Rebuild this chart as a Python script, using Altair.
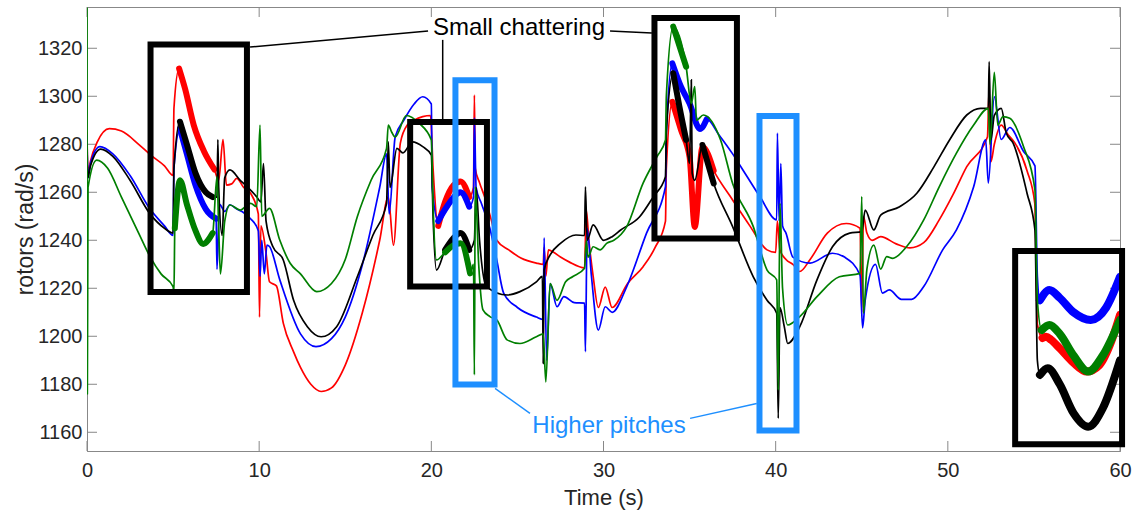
import altair as alt
import pandas as pd

# ---------------- data ----------------
red_t = [0, 0.05, 0.2, 0.6, 1.3, 2.0, 3.0, 3.7, 4.5, 5.0, 5.05, 5.35, 5.7, 6.2, 6.8, 7.4, 7.65, 7.9, 8.1, 8.4, 8.7, 9.1, 9.5, 9.95,
         10.02, 10.1, 10.4, 10.6, 11.0, 11.4, 12.0, 12.4, 13.0, 13.6, 14.2, 15.0, 16.0, 17.0, 17.5, 17.8, 18.2, 18.6, 19.0, 19.5,
         19.95, 20.1, 20.4, 20.8, 21.3, 21.7, 22.2, 22.45, 22.5, 22.55, 22.8, 23.1, 23.5, 23.8, 24.5, 25.2, 26.1, 26.5, 26.55,
         26.65, 26.8, 27.1, 27.5, 28.0, 28.9, 29.0, 29.15, 29.4, 29.7, 30.1, 30.5, 31.4, 32.3, 33.0, 33.6, 33.65, 34.0, 34.5,
         35.0, 35.3, 35.75, 36.4, 37.5, 38.5, 39.5, 40.0, 40.1, 40.25, 40.6, 41.0, 41.4, 42.0, 43.0, 44.1, 44.9, 45.0, 45.1,
         45.3, 45.6, 46.1, 47.0, 47.8, 48.6, 49.5, 50.3, 51.1, 52.3, 52.4, 52.5, 52.7, 53.1, 53.5, 53.9, 54.6, 55.05, 55.2,
         55.5, 55.7, 56.0, 56.5, 57.3, 58.06, 58.8, 59.5, 60]
red_v = [1285, 1268, 1273, 1281, 1286.5, 1285.5, 1280, 1275.5, 1271, 1267, 1295, 1311.5, 1303, 1288, 1277, 1269.5, 1265, 1282,
         1263, 1263.5, 1265.8, 1262, 1259.6, 1251, 1208, 1246, 1234.6, 1222.7, 1221, 1205.5, 1193.5, 1187, 1180, 1177, 1178.5,
         1188, 1210, 1240, 1258, 1238, 1280.5, 1288, 1290, 1291.5, 1292, 1270, 1246, 1256, 1263, 1264.5, 1258, 1262, 1300.5,
         1270, 1264, 1258, 1248, 1240, 1236, 1232.6, 1230.5, 1230, 1237, 1225, 1236, 1235, 1233, 1231, 1228.5, 1252.6, 1240,
         1225, 1212, 1220.5, 1212, 1222, 1229, 1237, 1248, 1270, 1297.7, 1286, 1274.7, 1245.5, 1278.9, 1269, 1256.8, 1246,
         1236, 1235, 1248, 1236, 1232, 1230, 1227, 1232, 1243, 1247, 1245, 1210, 1250, 1243, 1240, 1241.5, 1238.5, 1236.8,
         1239, 1248.5, 1259, 1270.7, 1283, 1303, 1272.7, 1280, 1288, 1284, 1280.5, 1269, 1255.5, 1205, 1199.3, 1199.8,
         1198.5, 1195, 1189, 1185.3, 1188, 1198, 1208.9]

blue_t = [0, 0.05, 0.2, 0.75, 1.5, 2.5, 3.66, 4.5, 5.0, 5.05, 5.4, 5.8, 6.3, 6.9, 7.5, 7.55, 7.7, 8.0, 8.3, 8.7, 9.0, 9.5, 9.95,
          10.05, 10.15, 10.3, 10.45, 10.6, 11.2, 12.4, 13.3, 14.2, 15.0, 16.0, 17.0, 17.4, 17.55, 17.9, 18.4, 19.0, 19.5, 20.0,
          20.05, 20.4, 20.9, 21.7, 22.2, 22.45, 22.5, 22.6, 22.9, 23.4, 23.8, 24.2, 25.0, 26.1, 26.5, 26.55, 26.7, 26.9, 27.3,
          27.7, 28.3, 28.9, 28.95, 29.05, 29.3, 29.7, 30.1, 30.5, 31.35, 32.5, 33.6, 33.65, 34.0, 34.5, 35.0, 35.6, 36.0, 36.7,
          37.5, 38.3, 39.1, 40.06, 40.1, 40.2, 40.3, 40.4, 40.6, 41.0, 42.0, 43.3, 44.0, 44.9, 45.05, 45.2, 45.8, 46.2, 46.6,
          47.3, 47.9, 48.6, 49.7, 50.5, 51.5, 52.2, 52.35, 52.7, 53.1, 53.6, 54.4, 55.06, 55.2, 55.35, 55.9, 56.5, 57.3, 58.3,
          59.2, 60]
blue_v = [1284, 1266, 1272, 1279, 1276, 1267, 1253, 1246, 1242, 1270, 1286.4, 1276, 1263, 1253, 1249, 1228, 1255, 1252, 1254.8,
          1253, 1252, 1249, 1244, 1225, 1240, 1226, 1238, 1237.4, 1223.5, 1201, 1195.7, 1199, 1208, 1230, 1262, 1276, 1251,
          1283, 1290, 1296.8, 1299.8, 1296.8, 1262, 1248, 1254, 1260, 1254, 1258, 1291, 1262, 1255.5, 1245, 1231.8, 1218, 1212,
          1208, 1207, 1241, 1190, 1222, 1212.3, 1216.5, 1214, 1213.8, 1193.6, 1245, 1225, 1202.6, 1212.3, 1210, 1220.7, 1243,
          1262.3, 1285, 1313.7, 1304, 1297, 1286.4, 1290.5, 1284, 1276, 1267, 1258, 1248.5, 1284.7, 1248, 1272, 1246, 1243,
          1233, 1230.5, 1234.6, 1233, 1225.5, 1203.5, 1215, 1230, 1218, 1219.3, 1215.4, 1215.4, 1220.7, 1236, 1244.3, 1262.3,
          1281.8, 1263.8, 1299.8, 1282, 1287, 1277, 1271, 1225, 1215, 1219.3, 1216, 1210, 1206.8, 1212, 1224.8]

black_t = [0, 0.05, 0.2, 0.8, 1.5, 2.5, 3.66, 4.5, 5.0, 5.05, 5.4, 5.8, 6.3, 6.9, 7.3, 7.55, 7.6, 7.65, 7.85, 8.0, 8.3, 8.9, 9.3,
           9.85, 10.1, 10.25, 10.4, 10.8, 11.4, 12.0, 12.8, 13.6, 14.5, 15.7, 16.6, 17.4, 17.5, 17.6, 18.0, 18.35, 18.9, 19.5,
           20.0, 20.1, 20.3, 20.8, 21.3, 21.7, 22.2, 22.5, 22.6, 22.8, 23.2, 24.4, 25.15, 26.1, 26.45, 26.5, 26.55, 26.9, 27.5,
           28.4, 28.9, 28.95, 29.05, 29.4, 30.0, 30.5, 31.0, 32.1, 32.9, 33.6, 33.65, 34.05, 34.4, 34.8, 35.0, 35.1, 35.15,
           35.3, 35.75, 36.4, 37.5, 38.7, 39.5, 40.06, 40.15, 40.25, 40.5, 40.7, 41.4, 42.4, 43.3, 44.3, 45.0, 45.2, 45.7, 46.1,
           47.2, 48.2, 49.2, 50.1, 51.1, 51.9, 52.35, 52.4, 52.5, 52.7, 53.1, 53.4, 53.8, 54.6, 55.06, 55.2, 55.35, 55.8, 56.5,
           57.3, 58.15, 59.0, 60]
black_v = [1280, 1266, 1271, 1278, 1275, 1265, 1251, 1245, 1243, 1270, 1289.4, 1280, 1268, 1260, 1258, 1258, 1282, 1262, 1242,
           1266, 1269.3, 1265, 1262.3, 1258.2, 1256, 1272, 1248, 1237.3, 1231.8, 1215, 1204, 1199.8, 1204, 1224.8, 1242, 1255.4,
           1281, 1262, 1278.3, 1276.4, 1281, 1279, 1275.5, 1250, 1227.6, 1236, 1241, 1243, 1236, 1240, 1262, 1240, 1220.7,
           1217.2, 1218.6, 1222.7, 1225, 1188.7, 1227.6, 1233.9, 1238.7, 1242.2, 1242, 1262.3, 1240, 1246.4, 1240, 1241.5,
           1244.3, 1249.8, 1258.2, 1266.5, 1285, 1309.6, 1296, 1281.8, 1272, 1306.8, 1268, 1265, 1279.7, 1263.7, 1245.7,
           1224.8, 1215, 1209.6, 1165.8, 1212, 1204, 1197, 1204, 1223.5, 1237.3, 1243, 1243.6, 1252.6, 1244.3, 1250.5, 1254,
           1259.6, 1270.7, 1281.8, 1292.2, 1295, 1295, 1314.4, 1281.8, 1292, 1295, 1284.6, 1280.4, 1259.6, 1244.3, 1190,
           1183.9, 1186.7, 1180, 1168, 1162.3, 1170, 1190]

green_t = [0, 0.02, 0.06, 0.56, 1.2, 2.0, 3.0, 3.66, 4.3, 5.0, 5.05, 5.1, 5.4, 5.8, 6.3, 6.75, 7.3, 7.55, 7.65, 7.75, 8.0, 8.3,
           8.9, 9.5, 9.86, 10.05, 10.15, 10.6, 11.2, 11.8, 12.4, 13.34, 14.2, 15.0, 15.7, 16.5, 17.4, 17.5, 17.7, 17.9, 18.55,
           19.3, 20.0, 20.1, 20.3, 20.8, 21.3, 21.7, 22.25, 22.45, 22.5, 22.55, 22.75, 23.0, 23.4, 23.8, 24.4, 25.15, 26.1,
           26.5, 26.65, 26.9, 27.3, 27.8, 28.2, 28.9, 29.0, 29.1, 29.4, 29.8, 30.2, 30.6, 31.35, 32.3, 33.1, 33.6, 33.65, 34.05,
           34.8, 35.1, 35.3, 35.4, 35.8, 36.8, 37.5, 38.7, 39.5, 40.06, 40.15, 40.25, 40.4, 40.7, 41.4, 42.4, 43.7, 44.9, 45.0,
           45.1, 45.3, 45.7, 46.1, 46.45, 46.8, 47.6, 48.6, 49.5, 50.5, 51.5, 52.35, 52.45, 52.7, 52.9, 53.2, 53.6, 54.4, 55.06,
           55.2, 55.45, 55.9, 56.5, 57.3, 58.15, 59.0, 60]
green_v = [1337, 1176, 1262, 1273.4, 1270, 1258, 1243, 1233.2, 1226, 1220.7, 1218, 1245, 1265, 1255, 1244, 1238.5, 1243,
           1266.5, 1245, 1226, 1248, 1254.7, 1252.6, 1255.4, 1254, 1288, 1250, 1253.3, 1240, 1230.4, 1226, 1218.6, 1222, 1232,
           1249.8, 1265, 1278.3, 1288, 1285, 1283, 1292, 1288.7, 1281.8, 1255, 1231.8, 1235, 1238, 1238.8, 1226.2, 1230,
           1183.9, 1262.3, 1230, 1211, 1208.2, 1206.8, 1198.5, 1197, 1199.8, 1201, 1181, 1222, 1215, 1222.7, 1224.8, 1228.3,
           1240, 1233, 1237.3, 1236, 1238.8, 1240, 1245.7, 1263.8, 1274.8, 1281.8, 1300, 1329, 1312.3, 1297, 1304, 1290,
           1292.2, 1281.8, 1263.7, 1245.7, 1227.6, 1223.5, 1177.6, 1255.4, 1220, 1204.7, 1208.2, 1216.5, 1224.8, 1226.2,
           1258.2, 1209.6, 1228, 1238, 1228, 1233.2, 1232.5, 1237.3, 1248.5, 1262.3, 1276.3, 1288, 1295, 1280, 1310, 1288,
           1291.5, 1290.8, 1279, 1261, 1215, 1202.6, 1204.7, 1201, 1192, 1185.3, 1192, 1206.8]

# thick (chattering band) intervals per series: (start, end, width)
red_thick = [(5.1, 7.45, 6), (20.35, 22.3, 6), (33.9, 37.2, 6), (55.3, 60, 8)]
blue_thick = [(5.1, 7.5, 6), (20.35, 22.3, 6), (33.9, 36.5, 6), (55.3, 60, 8)]
black_thick = [(5.1, 7.4, 6), (20.35, 22.3, 6), (33.9, 34.9, 6), (35.5, 36.5, 6), (55.3, 60, 8)]
green_thick = [(5.1, 7.3, 6), (20.35, 22.3, 6), (33.9, 35.0, 6), (55.3, 60, 8)]

series_names = ["red", "blue", "black", "green"]
series_colors = ["#ff0000", "#0000ff", "#000000", "#007f00"]

# annotation boxes (t1, t2, v1, v2)
black_boxes = [(3.69, 9.29, 1218.5, 1321.6), (18.77, 23.23, 1220.75, 1289.3),
               (32.96, 37.75, 1240.7, 1332.6), (53.91, 60.12, 1155.0, 1235.5)]
blue_boxes = [(21.40, 23.67, 1179.9, 1306.7), (39.06, 41.21, 1160.75, 1291.8)]

black_links = [(9.47, 19.81, 1320.5, 1327.2), (20.66, 20.66, 1323.5, 1290.1), (30.38, 32.81, 1327.2, 1326.4)]
blue_links = [(23.70, 25.73, 1178.3, 1167.9), (35.03, 38.9, 1165.8, 1172.0)]

labels_text = ["Small chattering", "Higher pitches"]
labels_t = [25.09, 30.32]
labels_v = [1325.5, 1159.6]
labels_color = ["#000000", "#1e8fff"]

x_ticks = [0, 10, 20, 30, 40, 50, 60]
y_ticks = [1160, 1180, 1200, 1220, 1240, 1260, 1280, 1300, 1320]

# ---------------- chart ----------------
W, H = 1033, 444
FONT = "Liberation Sans"
xs = alt.Scale(domain=[0, 60], nice=False, zero=False)
ys = alt.Scale(domain=[1152.2, 1337.2], nice=False, zero=False)

x_axis = alt.Axis(values=x_ticks, format="d", ticks=False, grid=False, domainColor="#888888",
                  labelFont=FONT, labelFontSize=20, labelColor="#262626", labelPadding=9,
                  labelFlush=False, labelOverlap=False, title="Time (s)", titleFont=FONT,
                  titleFontSize=22, titleFontWeight="normal", titleColor="#262626",
                  titleY=53, titleBaseline="alphabetic")
y_axis = alt.Axis(values=y_ticks, format="d", ticks=False, grid=False, domainColor="#888888",
                  labelFont=FONT, labelFontSize=20, labelColor="#262626", labelPadding=5,
                  labelFlush=False, labelOverlap=False, title="rotors (rad/s)", titleFont=FONT,
                  titleFontSize=23, titleFontWeight="normal", titleColor="#262626",
                  titleX=-62, titleY=222, titleAlign="center", titleBaseline="middle", titleAngle=270)


def X(field):
    return alt.X(field, scale=xs, axis=x_axis)


def Y(field):
    return alt.Y(field, scale=ys, axis=y_axis)


all_t = [red_t, blue_t, black_t, green_t]
all_v = [red_v, blue_v, black_v, green_v]
all_thick = [red_thick, blue_thick, black_thick, green_thick]

layers = []
# inward tick marks on all four sides (MATLAB-style box)
xt = pd.DataFrame({"t": x_ticks})
yt = pd.DataFrame({"v": y_ticks})
layers.append(alt.Chart(xt).mark_rule(color="#888888", strokeWidth=1).encode(
    x=X("t:Q"), y=alt.value(H), y2=alt.value(H - 10)))
layers.append(alt.Chart(xt).mark_rule(color="#888888", strokeWidth=1).encode(
    x=X("t:Q"), y=alt.value(0), y2=alt.value(10)))
layers.append(alt.Chart(yt).mark_rule(color="#888888", strokeWidth=1).encode(
    y=Y("v:Q"), x=alt.value(0), x2=alt.value(10)))
layers.append(alt.Chart(yt).mark_rule(color="#888888", strokeWidth=1).encode(
    y=Y("v:Q"), x=alt.value(W - 10), x2=alt.value(W)))

for name, col, ts, vs, thick in zip(series_names, series_colors, all_t, all_v, all_thick):
    df = pd.DataFrame({"t": ts, "v": vs})
    df["i"] = range(len(df))
    layers.append(alt.Chart(df).mark_line(color=col, strokeWidth=1.7, interpolate="monotone", clip=True).encode(
        x=X("t:Q"), y=Y("v:Q"), order="i:Q"))
    parts = []
    for k, (a, b, w) in enumerate(thick):
        sub = df[(df["t"] >= a) & (df["t"] <= b)].copy()
        sub["seg"] = k
        sub["w"] = w
        parts.append(sub)
    tdf = pd.concat(parts, ignore_index=True)
    layers.append(alt.Chart(tdf).mark_line(color=col, interpolate="monotone", clip=True,
                                           strokeCap="round", strokeJoin="round").encode(
        x=X("t:Q"), y=Y("v:Q"),
        detail="seg:N", order="i:Q", strokeWidth=alt.StrokeWidth("w:Q", scale=None)))

bb = pd.DataFrame(black_boxes, columns=["t1", "t2", "v1", "v2"])
bl = pd.DataFrame(blue_boxes, columns=["t1", "t2", "v1", "v2"])
layers.append(alt.Chart(bb).mark_rect(fillOpacity=0, stroke="#000000", strokeWidth=6).encode(
    x=X("t1:Q"), x2="t2:Q", y=Y("v1:Q"), y2="v2:Q"))
layers.append(alt.Chart(bl).mark_rect(fillOpacity=0, stroke="#1e8fff", strokeWidth=6).encode(
    x=X("t1:Q"), x2="t2:Q", y=Y("v1:Q"), y2="v2:Q"))

lk = pd.DataFrame(black_links, columns=["t1", "t2", "v1", "v2"])
lb = pd.DataFrame(blue_links, columns=["t1", "t2", "v1", "v2"])
layers.append(alt.Chart(lk).mark_rule(color="#000000", strokeWidth=1.5).encode(
    x=X("t1:Q"), x2="t2:Q", y=Y("v1:Q"), y2="v2:Q"))
layers.append(alt.Chart(lb).mark_rule(color="#1e8fff", strokeWidth=1.5).encode(
    x=X("t1:Q"), x2="t2:Q", y=Y("v1:Q"), y2="v2:Q"))

tx = pd.DataFrame({"label": labels_text, "t": labels_t, "v": labels_v, "c": labels_color})
layers.append(alt.Chart(tx).mark_text(font=FONT, fontSize=24, align="center", baseline="alphabetic").encode(
    x=X("t:Q"), y=Y("v:Q"),
    text="label:N", color=alt.Color("c:N", scale=None)))

chart = alt.layer(*layers).properties(
    width=W, height=H,
    autosize=alt.AutoSizeParams(type="none"),
    padding={"left": 87, "top": 7, "right": 20, "bottom": 61},
    background="white",
).configure_view(stroke="#888888", strokeWidth=1)

chart.save("out.html", embed_options={"renderer": "svg", "actions": False})
